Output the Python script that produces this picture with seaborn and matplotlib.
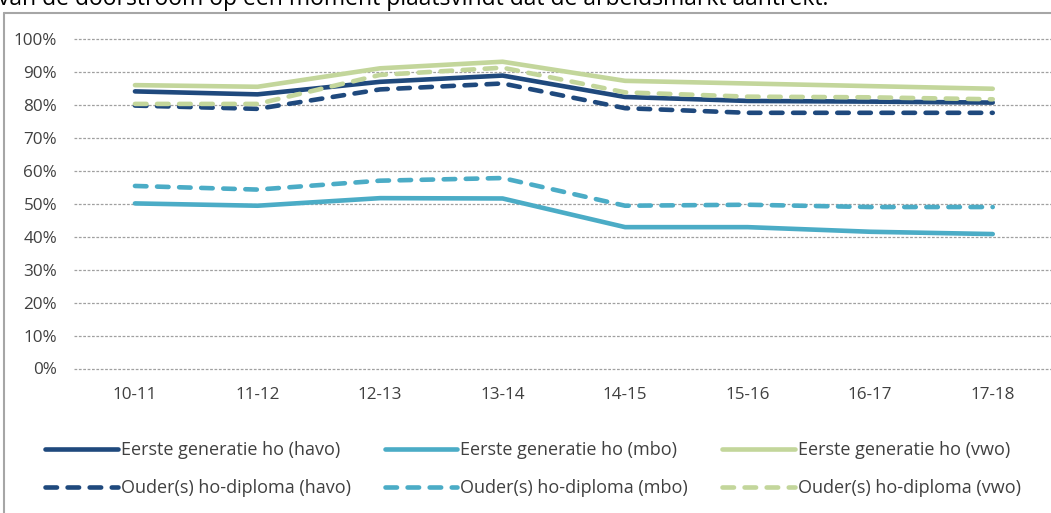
import matplotlib
matplotlib.use("Agg")
import matplotlib.pyplot as plt
import seaborn as sns
import pandas as pd
from matplotlib.lines import Line2D
from matplotlib.ticker import PercentFormatter

# ---- data ----
years = ["10-11", "11-12", "12-13", "13-14", "14-15", "15-16", "16-17", "17-18"]
eerste_havo = [84.1, 83.2, 87.0, 88.9, 82.4, 81.2, 81.0, 80.7]
eerste_mbo = [50.1, 49.4, 51.7, 51.6, 42.9, 42.9, 41.5, 40.8]
eerste_vwo = [86.0, 85.5, 91.1, 93.1, 87.3, 86.5, 85.7, 84.9]
ouder_havo = [79.8, 78.8, 84.7, 86.5, 79.0, 77.6, 77.6, 77.6]
ouder_mbo = [55.4, 54.3, 57.0, 57.8, 49.4, 49.7, 49.0, 49.0]
ouder_vwo = [80.3, 80.3, 89.1, 91.3, 83.8, 82.5, 82.3, 81.7]

series_names = [
    "Eerste generatie ho (havo)", "Ouder(s) ho-diploma (havo)",
    "Eerste generatie ho (mbo)", "Ouder(s) ho-diploma (mbo)",
    "Eerste generatie ho (vwo)", "Ouder(s) ho-diploma (vwo)",
]
series_values = [eerste_havo, ouder_havo, eerste_mbo, ouder_mbo, eerste_vwo, ouder_vwo]
series_colors = ["#1F497D", "#1F497D", "#4BACC6", "#4BACC6", "#C3D69B", "#C3D69B"]
series_dashed = [False, True, False, True, False, True]

sns.set_theme(style="white")
plt.rcParams["font.family"] = ["Open Sans", "DejaVu Sans"]
text_color = "#404040"

W, H = 1051, 513
fig = plt.figure(figsize=(W / 100, H / 100), dpi=100)

# outer border of the chart frame (top and left edges; the rest is cropped)
frame_col = "#A6A6A6"
fig.add_artist(Line2D([4 / W, 1.05], [(H - 13) / H, (H - 13) / H],
                      transform=fig.transFigure, color=frame_col, linewidth=1.5))
fig.add_artist(Line2D([4 / W, 4 / W], [-0.05, (H - 13) / H],
                      transform=fig.transFigure, color=frame_col, linewidth=1.5))

# cropped caption line from the page above the chart
fig.text(-2 / W, (H - 5) / H, "van de doorstroom op een moment plaatsvindt dat de arbeidsmarkt aantrekt.",
         fontsize=16.5, color="#000000", ha="left", va="baseline")

left_px, right_px = 73.7, 1054
top_px, bottom_px = 39, 368.5
ax = fig.add_axes([left_px / W, (H - bottom_px) / H,
                   (right_px - left_px) / W, (bottom_px - top_px) / H])

xs = list(range(len(years)))
lw = 4.6 * 72 / 100
for name, vals, col, dashed in zip(series_names, series_values, series_colors, series_dashed):
    df = pd.DataFrame({"x": xs, "y": [v / 100 for v in vals]})
    sns.lineplot(data=df, x="x", y="y", ax=ax, color=col, linewidth=lw,
                 legend=False, sort=False)
    line = ax.get_lines()[-1]
    line.set_solid_capstyle("round")
    line.set_solid_joinstyle("round")
    if dashed:
        line.set_dashes((2.5, 2.3))
        line.set_dash_capstyle("round")
    line.set_label(name)

ax.set_xlim(-0.5, 7.5)
ax.set_ylim(0, 1.0)
ax.set_yticks([i / 10 for i in range(11)])
ax.yaxis.set_major_formatter(PercentFormatter(1.0, decimals=0))
ax.set_xticks(xs)
ax.set_xticklabels(years)
ax.set_xlabel("")
ax.set_ylabel("")
for s in ax.spines.values():
    s.set_visible(False)
ax.grid(axis="y", color="#A0A0A0", linestyle=(0, (2.2, 1.3)), linewidth=0.9, clip_on=False)
ax.grid(axis="x", visible=False)
ax.set_axisbelow(True)
ax.tick_params(axis="both", length=0, labelsize=12.3, labelcolor=text_color)
ax.tick_params(axis="y", pad=12)
ax.tick_params(axis="x", pad=13)

handles = ax.get_lines()
fig.legend(handles=handles, labels=series_names, ncol=3, frameon=False,
           loc="center", bbox_to_anchor=(533 / W, (H - 469) / H),
           fontsize=13, labelcolor=text_color, handlelength=4.0, handletextpad=0.17,
           columnspacing=1.9, labelspacing=1.1)

fig.savefig("out.png", dpi=100)
